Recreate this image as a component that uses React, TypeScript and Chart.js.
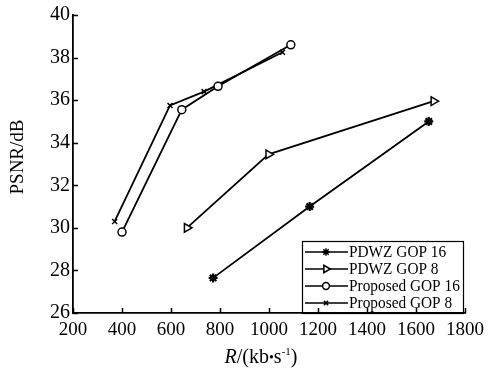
import React, { useEffect, useRef } from "react";
import { Chart, registerables } from "chart.js";

Chart.register(...registerables);

// ---- data ----
const xTickValues = [200, 400, 600, 800, 1000, 1200, 1400, 1600, 1800];
const yTickValues = [26, 28, 30, 32, 34, 36, 38, 40];

const seriesNames = ["PDWZ GOP 16", "PDWZ GOP 8", "Proposed GOP 16", "Proposed GOP 8"];

const pdwz16Rate = [772, 1166, 1652];
const pdwz16Psnr = [27.65, 31.0, 35.0];

const pdwz8Rate = [665, 998, 1672];
const pdwz8Psnr = [30.0, 33.45, 35.95];

const prop16Rate = [400, 644, 792, 1089];
const prop16Psnr = [29.8, 35.55, 36.65, 38.6];

const prop8Rate = [370, 596, 735, 1055];
const prop8Psnr = [30.3, 35.75, 36.4, 38.25];

const markerStyles = ["star", "triangle", "circle", "crossRot"];
const markerRadius = [4.5, 5, 4, 3.5];
const markerRotation = [0, 90, 0, 0];

const FONT = '"Liberation Serif", "Times New Roman", serif';

function toPoints(xs: number[], ys: number[]) {
  return xs.map((x, i) => ({ x, y: ys[i] }));
}

function drawMarker(ctx: CanvasRenderingContext2D, style: string, x: number, y: number, r: number) {
  ctx.beginPath();
  if (style === "star") {
    ctx.moveTo(x - r, y); ctx.lineTo(x + r, y);
    ctx.moveTo(x, y - r); ctx.lineTo(x, y + r);
    const d = r * 0.7071;
    ctx.moveTo(x - d, y - d); ctx.lineTo(x + d, y + d);
    ctx.moveTo(x - d, y + d); ctx.lineTo(x + d, y - d);
    ctx.stroke();
  } else if (style === "triangle") {
    ctx.moveTo(x + r, y);
    ctx.lineTo(x - r * 0.5, y - r * 0.866);
    ctx.lineTo(x - r * 0.5, y + r * 0.866);
    ctx.closePath();
    ctx.fill();
    ctx.stroke();
  } else if (style === "circle") {
    ctx.arc(x, y, r, 0, Math.PI * 2);
    ctx.fill();
    ctx.stroke();
  } else {
    const d = r * 0.7071;
    ctx.moveTo(x - d, y - d); ctx.lineTo(x + d, y + d);
    ctx.moveTo(x - d, y + d); ctx.lineTo(x + d, y - d);
    ctx.stroke();
  }
}

const decorPlugin = {
  id: "decor",
  afterDraw(chart: any) {
    const ctx: CanvasRenderingContext2D = chart.ctx;
    const xs = chart.scales.x;
    const ys = chart.scales.y;
    const { left, right, bottom } = chart.chartArea;
    ctx.save();
    ctx.strokeStyle = "#000";
    ctx.fillStyle = "#000";
    ctx.lineWidth = 1.5;
    // inward tick marks
    xs.ticks.forEach((t: any) => {
      const px = Math.round(xs.getPixelForValue(t.value)) + 0.5;
      ctx.beginPath();
      ctx.moveTo(px, bottom);
      ctx.lineTo(px, bottom - 5);
      ctx.stroke();
    });
    ys.ticks.forEach((t: any) => {
      const py = Math.round(ys.getPixelForValue(t.value)) + 0.5;
      ctx.beginPath();
      ctx.moveTo(left, py);
      ctx.lineTo(left + 5, py);
      ctx.stroke();
    });

    // y title
    ctx.save();
    ctx.translate(18, 157);
    ctx.rotate(-Math.PI / 2);
    ctx.font = `19px ${FONT}`;
    ctx.textAlign = "center";
    ctx.textBaseline = "middle";
    ctx.fillText("PSNR/dB", 0, 0);
    ctx.restore();

    // x title: R/(kb•s^-1)
    const parts = [
      { t: "R", f: `italic 20px ${FONT}`, dy: 0 },
      { t: "/(kb", f: `20px ${FONT}`, dy: 0 },
      { t: "•", f: `14px ${FONT}`, dy: -1 },
      { t: "s", f: `20px ${FONT}`, dy: 0 },
      { t: "-1", f: `11px ${FONT}`, dy: -8 },
      { t: ")", f: `20px ${FONT}`, dy: 0 },
    ];
    let total = 0;
    const widths = parts.map((p) => {
      ctx.font = p.f;
      const w = ctx.measureText(p.t).width;
      total += w;
      return w;
    });
    let cx = (left + right) / 2 - 8 - total / 2;
    const baseY = 363;
    ctx.textAlign = "left";
    ctx.textBaseline = "alphabetic";
    parts.forEach((p, i) => {
      ctx.font = p.f;
      ctx.fillText(p.t, cx, baseY + p.dy);
      cx += widths[i];
    });

    // legend box
    const bx = 302, by = 241, bw = 161, bh = bottom - by;
    ctx.lineWidth = 1.2;
    ctx.strokeRect(bx + 0.5, by + 0.5, bw, bh);
    ctx.font = `16.5px ${FONT}`;
    ctx.textBaseline = "middle";
    const rowY = [252, 269, 286, 303];
    seriesNames.forEach((name, i) => {
      const y = rowY[i];
      ctx.lineWidth = 1.7;
      ctx.strokeStyle = "#000";
      ctx.beginPath();
      ctx.moveTo(305, y);
      ctx.lineTo(348, y);
      ctx.stroke();
      ctx.fillStyle = "#fff";
      ctx.lineWidth = 1.5;
      drawMarker(ctx, markerStyles[i], 326, y, markerRadius[i] * 0.85);
      ctx.fillStyle = "#000";
      ctx.save();
      ctx.translate(349, y + 1);
      ctx.scale(0.93, 1);
      ctx.fillText(name, 0, 0);
      ctx.restore();
    });
    ctx.restore();
  },
};

export default function App() {
  const canvasRef = useRef<HTMLCanvasElement | null>(null);

  useEffect(() => {
    document.body.style.margin = "0";
    const canvas = canvasRef.current;
    if (!canvas) return;
    const datasets = [
      toPoints(pdwz16Rate, pdwz16Psnr),
      toPoints(pdwz8Rate, pdwz8Psnr),
      toPoints(prop16Rate, prop16Psnr),
      toPoints(prop8Rate, prop8Psnr),
    ].map((data, i) => ({
      label: seriesNames[i],
      data,
      borderColor: "#000",
      backgroundColor: "#fff",
      borderWidth: 1.8,
      pointStyle: markerStyles[i] as any,
      pointRadius: markerRadius[i],
      pointRotation: markerRotation[i],
      pointBorderColor: "#000",
      pointBackgroundColor: "#fff",
      pointBorderWidth: i === 0 ? 2.2 : 1.5,
      tension: 0,
      showLine: true,
    }));

    const chart = new Chart(canvas, {
      type: "scatter",
      data: { datasets },
      options: {
        animation: false,
        responsive: false,
        devicePixelRatio: 1,
        layout: { padding: { left: 0, right: 21, top: 15, bottom: 0 } },
        plugins: { legend: { display: false }, tooltip: { enabled: false } },
        scales: {
          x: {
            type: "linear",
            min: 200,
            max: 1800,
            afterBuildTicks: (s: any) => {
              s.ticks = xTickValues.map((v) => ({ value: v }));
            },
            afterFit: (s: any) => {
              s.height = 59;
            },
            grid: { display: false, drawTicks: false },
            border: { display: true, color: "#000", width: 1.8 },
            ticks: {
              color: "#000",
              font: { family: FONT, size: 19 },
              padding: 6,
              maxRotation: 0,
              autoSkip: false,
              callback: (v: any) => String(v),
            },
          },
          y: {
            type: "linear",
            min: 26,
            max: 40,
            afterBuildTicks: (s: any) => {
              s.ticks = yTickValues.map((v) => ({ value: v }));
            },
            afterFit: (s: any) => {
              s.width = 73;
            },
            grid: { display: false, drawTicks: false },
            border: { display: true, color: "#000", width: 1.8 },
            ticks: {
              color: "#000",
              font: { family: FONT, size: 20 },
              padding: 3,
              autoSkip: false,
              callback: (v: any) => String(v),
            },
          },
        },
      },
      plugins: [decorPlugin],
    });
    return () => chart.destroy();
  }, []);

  return (
    <div style={{ position: "absolute", left: 0, top: 0, width: 490, height: 372 }}>
      <canvas ref={canvasRef} width={490} height={372} />
    </div>
  );
}
